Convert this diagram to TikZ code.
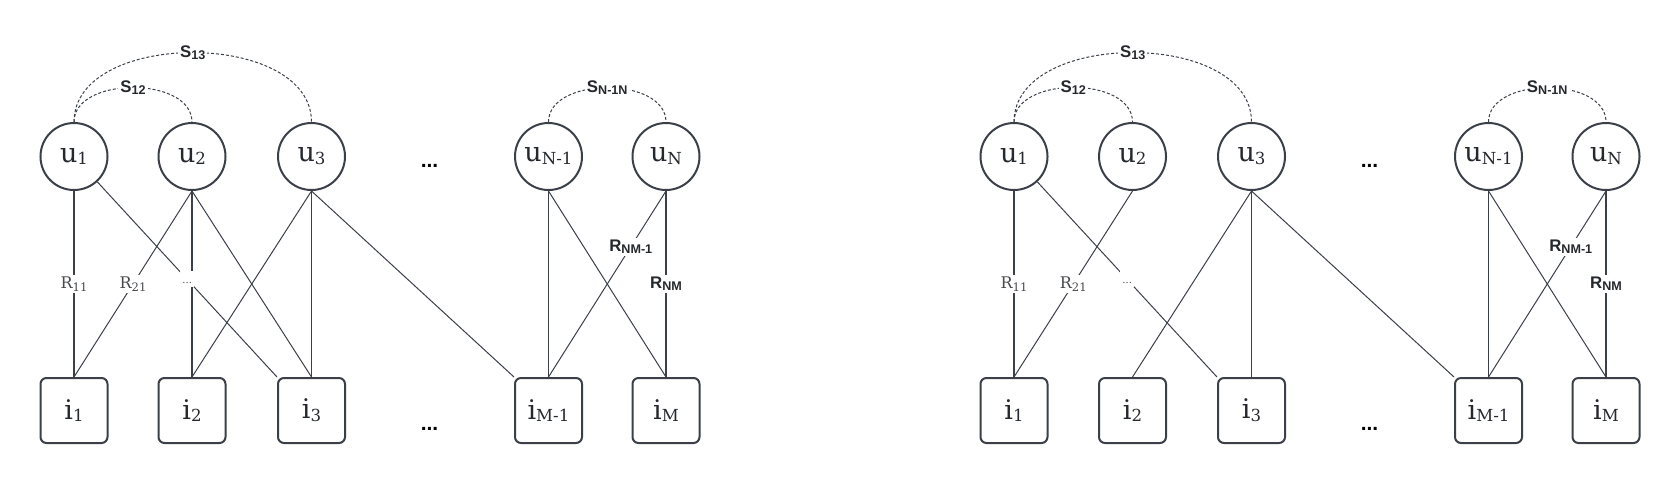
\documentclass[tikz,border=0pt]{standalone}
\usepackage{fontspec}
\usepackage{tikz}
\usetikzlibrary{positioning, calc}
\newfontfamily\labsans{Liberation Sans}
\newfontfamily\labserif{DejaVu Serif}
\definecolor{net_gray}{HTML}{3A3F48}
\colorlet{netgray}{net_gray}
\definecolor{txtgray}{HTML}{25282D}
\newcommand{\nsub}[1]{\raisebox{-1.4pt}{\fontsize{8.3}{9}\selectfont #1}}
\newcommand{\rsub}[1]{\raisebox{-1.2pt}{\fontsize{5.8}{6}\selectfont #1}}
\newcommand{\bsub}[1]{\raisebox{-1.2pt}{\fontsize{6.3}{7}\selectfont\bfseries #1}}
\tikzset{
  user/.style={circle,draw=netgray,line width=1pt,minimum size=33.5pt,inner sep=0pt,text=txtgray,font=\labserif\fontsize{13.5}{15}\selectfont},
  item/.style={rectangle,rounded corners=3pt,draw=netgray,line width=1pt,minimum width=33.5pt,minimum height=32.5pt,inner sep=0pt,text=txtgray,font=\labserif\fontsize{13.5}{15}\selectfont},
  rating/.style={draw=netgray,line width=0.5pt},
  ratingx/.style={rating,line width=1pt},
  sim/.style={draw=netgray,line width=0.5pt,dash pattern=on 1.5pt off 1pt},
  rlabel/.style={fill=white,inner sep=1pt,text=txtgray!85,font=\labserif\fontsize{8}{9}\selectfont},
  dlabel/.style={rlabel,font=\labserif\fontsize{5}{6}\selectfont,text height=5pt,text depth=1pt},
  blabel/.style={fill=white,inner sep=1pt,text=txtgray,font=\labsans\bfseries\fontsize{8.4}{9}\selectfont},
  dotsnode/.style={text=black,font=\labsans\bfseries\fontsize{10.5}{12}\selectfont},
}

\begin{document}
\begin{tikzpicture}[x=0.5pt,y=-0.5pt]
	\useasboundingbox (0,0) rectangle (1680,484);
	% left graph
	\node[user] (LU1) at (74,156.5) {u\nsub{1}};
	\node[user] (LU2) at (192,156.5) {u\nsub{2}};
	\node[user] (LU3) at (311.5,156.5) {u\nsub{3}};
	\node[dotsnode] (LUD) at (429.5,166) {...};
	\node[user] (LUN1) at (548.5,156.5) {u\nsub{N-1}};
	\node[user] (LUN) at (666,156.5) {u\nsub{N}};
	\node[item,below=93pt of LU1] (LI1) {i\nsub{1}};
	\node[item,below=93pt of LU2] (LI2) {i\nsub{2}};
	\node[item,below=93pt of LU3] (LI3) {i\nsub{3}};
	\node[dotsnode] (LID) at (429.5,429) {...};
	\node[item,below=93pt of LUN1] (LIM1) {i\nsub{M-1}};
	\node[item,below=93pt of LUN] (LIM) {i\nsub{M}};
	\draw[ratingx] (LU1) -- node[rlabel] {R\rsub{11}} (LI1);
	\draw[rating] (LU2.south) -- node[rlabel] {R\rsub{21}} (LI1.north);
	\draw[ratingx] (LU2) -- (LI2);
	\draw[rating] (LU1) -- node[dlabel] {...} (LI3.north west);
	\draw[rating] (LU2.south) -- (LI3.north);
	\draw[rating] (LU3.south) -- (LI2.north);
	\draw[rating] (LU3) -- (LI3);
	\draw[rating] (LU3.south) -- (LIM1.north west);
	\draw[rating] (LUN1) -- (LIM1);
	\draw[rating] (LUN1.south) -- (LIM.north);
	\draw[rating] (LUN.south) -- node[blabel,pos=0.3] {R\bsub{NM-1}} (LIM1.north);
	\draw[ratingx] (LUN) -- node[blabel] {R\bsub{NM}} (LIM);
	\draw[sim] (LU1.north) to[out=90,in=90] node[blabel] {S\bsub{13}} (LU3.north);
	\draw[sim] (LU1.north) to[out=90,in=90] node[blabel] {S\bsub{12}} (LU2.north);
	\draw[sim] (LUN1.north) to[out=90,in=90] node[blabel] {S\bsub{N-1N}} (LUN.north);
	% right graph
	\node[user] (RU1) at (1014,156.5) {u\nsub{1}};
	\node[user] (RU2) at (1132.5,156.5) {u\nsub{2}};
	\node[user] (RU3) at (1251.5,156.5) {u\nsub{3}};
	\node[dotsnode] (RUD) at (1369.5,166) {...};
	\node[user] (RUN1) at (1488.5,156.5) {u\nsub{N-1}};
	\node[user] (RUN) at (1606,156.5) {u\nsub{N}};
	\node[item,below=93pt of RU1] (RI1) {i\nsub{1}};
	\node[item,below=93pt of RU2] (RI2) {i\nsub{2}};
	\node[item,below=93pt of RU3] (RI3) {i\nsub{3}};
	\node[dotsnode] (RID) at (1369.5,429) {...};
	\node[item,below=93pt of RUN1] (RIM1) {i\nsub{M-1}};
	\node[item,below=93pt of RUN] (RIM) {i\nsub{M}};
	\draw[ratingx] (RU1) -- node[rlabel] {R\rsub{11}} (RI1);
	\draw[rating] (RU2.south) -- node[rlabel] {R\rsub{21}} (RI1.north);
	\draw[rating] (RU1) -- node[dlabel] {...} (RI3.north west);
	\draw[rating] (RU3.south) -- (RI2.north);
	\draw[rating] (RU3) -- (RI3);
	\draw[rating] (RU3.south) -- (RIM1.north west);
	\draw[rating] (RUN1) -- (RIM1);
	\draw[rating] (RUN1.south) -- (RIM.north);
	\draw[rating] (RUN.south) -- node[blabel,pos=0.3] {R\bsub{NM-1}} (RIM1.north);
	\draw[ratingx] (RUN) -- node[blabel] {R\bsub{NM}} (RIM);
	\draw[sim] (RU1.north) to[out=90,in=90] node[blabel] {S\bsub{13}} (RU3.north);
	\draw[sim] (RU1.north) to[out=90,in=90] node[blabel] {S\bsub{12}} (RU2.north);
	\draw[sim] (RUN1.north) to[out=90,in=90] node[blabel] {S\bsub{N-1N}} (RUN.north);
\end{tikzpicture}
\end{document}
